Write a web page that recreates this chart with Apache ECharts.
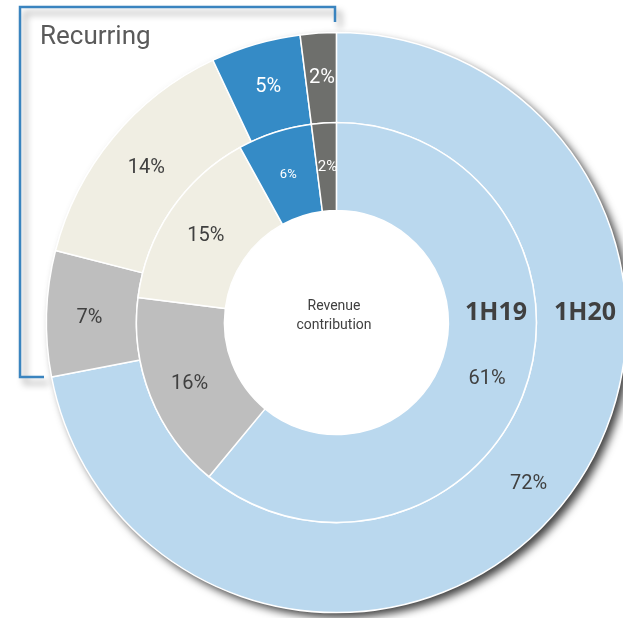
<!DOCTYPE html>
<html>
<head>
<meta charset="utf-8">
<script src="https://cdn.jsdelivr.net/npm/echarts@6/dist/echarts.min.js"></script>
<style>
  html, body { margin: 0; padding: 0; background: #fff; }
  #chart { width: 623px; height: 618px; }
</style>
</head>
<body>
<div id="chart"></div>
<script>
// segments, clockwise from 12 o'clock
const segments = ['Recurring A', 'Recurring B', 'Recurring C', 'Other A', 'Other B']
const values1H20 = [72, 7, 14, 5, 2]
const values1H19 = [61, 16, 15, 6, 2]
const segmentColors = ['#bad8ee', '#bebebe', '#f0eee3', '#358bc6', '#6e6f6c']
const labelColors = ['#404040', '#404040', '#404040', '#ffffff', '#ffffff']
const innerLabelSizes = [20, 20, 20, 13, 15]

const center = ['54%', '52.2%']
const textColor = '#404040'

let buildData = (values, sizes) => values.map((v, i) => ({
    name: segments[i],
    value: v,
    itemStyle: { color: segmentColors[i] },
    label: { color: labelColors[i], fontSize: sizes ? sizes[i] : 20 }
}))

let option = {
    animation: false,
    textStyle: { fontFamily: 'Roboto' },
    graphic: [
        // "Recurring" bracket
        {
            type: 'polyline',
            shape: { points: [[335, 22], [335, 7], [20, 7], [20, 377], [44, 377]] },
            style: {
                stroke: '#3a84bf',
                lineWidth: 2.5,
                fill: null,
                shadowColor: 'rgba(0,0,0,0.4)',
                shadowBlur: 7,
                shadowOffsetX: 5,
                shadowOffsetY: 6
            },
            z: 1
        },
        {
            type: 'text',
            left: 40,
            top: 24,
            style: { text: 'Recurring', font: '26px Roboto', fill: '#5a5a5a' },
            z: 2
        },
        {
            type: 'text',
            x: 334,
            y: 297,
            style: {
                text: 'Revenue\ncontribution',
                font: '14px Roboto',
                fill: textColor,
                textAlign: 'center',
                lineHeight: 19
            },
            z: 10
        },
        {
            type: 'text',
            left: 465,
            top: 300,
            style: { text: '1H19', font: 'bold 25px "Open Sans"', fill: textColor },
            z: 10
        },
        {
            type: 'text',
            left: 554,
            top: 300,
            style: { text: '1H20', font: 'bold 25px "Open Sans"', fill: textColor },
            z: 10
        }
    ],
    series: [
        {
            // shadow disc under the outer ring
            name: 'shadow',
            type: 'pie',
            center: center,
            radius: [0, 290],
            silent: true,
            z: 1,
            label: { show: false },
            itemStyle: {
                color: '#ffffff',
                shadowColor: 'rgba(0,0,0,0.75)',
                shadowBlur: 8,
                shadowOffsetX: 5,
                shadowOffsetY: 5
            },
            data: [{ name: 'bg', value: 1 }]
        },
        {
            name: '1H20',
            type: 'pie',
            center: center,
            radius: [200, 290],
            startAngle: 90,
            clockwise: true,
            z: 3,
            itemStyle: { borderColor: '#ffffff', borderWidth: 1.5 },
            label: {
                show: true,
                position: 'inside',
                formatter: '{c}%',
                fontSize: 20,
                offset: [1, 3]
            },
            labelLine: { show: false },
            data: buildData(values1H20)
        },
        {
            name: '1H19',
            type: 'pie',
            center: center,
            radius: [112, 200],
            startAngle: 90,
            clockwise: true,
            z: 3,
            itemStyle: { borderColor: '#ffffff', borderWidth: 1.5 },
            label: {
                show: true,
                position: 'inside',
                formatter: '{c}%',
                fontSize: 20,
                offset: [1, 3]
            },
            labelLine: { show: false },
            data: buildData(values1H19, innerLabelSizes)
        }
    ]
}

let chart = echarts.init(document.getElementById('chart'))
chart.setOption(option)
</script>
</body>
</html>
